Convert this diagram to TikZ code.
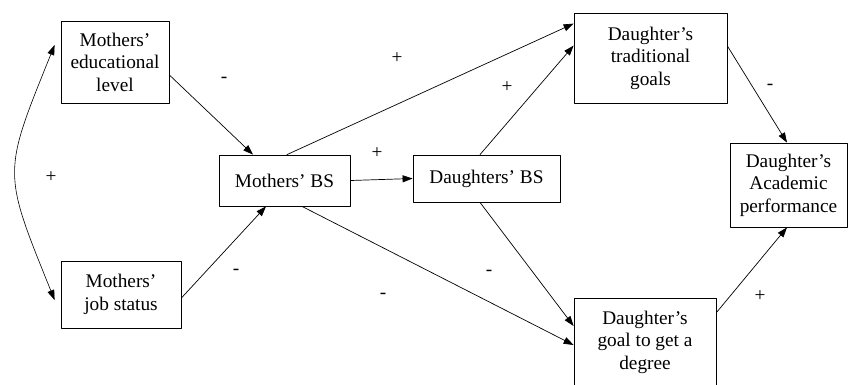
\documentclass[tikz,border=0pt]{standalone}
\usepackage{fontspec}
\setmainfont{Liberation Serif}
\usetikzlibrary{arrows.meta}
\tikzset{
  every picture/.style={line join=round, line cap=round, >={Triangle[length=10pt,width=7pt]}},
  box/.style={draw, line width=0.8pt, align=center, inner sep=0pt, font=\fontsize{19.3}{22.5}\selectfont},
  sign/.style={inner sep=0pt, font=\fontsize{19.3}{22.5}\selectfont},
  link/.style={->, line width=0.7pt},
}

\begin{document}
\begin{tikzpicture}[x=1pt,y=1pt]
\useasboundingbox (0,0) rectangle (848,-384);
\node[box,minimum width=108pt,minimum height=82pt](edu)at(115,-62){Mothers'\\educational\\level};
\node[box,minimum width=120pt,minimum height=67pt](job)at(121,-294.5){Mothers'\\job status};
\node[box,minimum width=131pt,minimum height=51pt](mbs)at(284.5,-180.5){Mothers' BS};
\node[box,minimum width=147pt,minimum height=47pt](dbs)at(486.5,-178.5){Daughters' BS};
\node[box,minimum width=153pt,minimum height=90pt](trad)at(650.5,-58){Daughter's\\traditional\\goals};
\node[box,minimum width=117pt,minimum height=84pt](acad)at(788.5,-185){Daughter's\\Academic\\performance};
\node[box,minimum width=142pt,minimum height=88pt](deg)at(645,-342){Daughter's\\goal to get a\\degree};
\draw[link]([yshift=-13pt]edu.east)--([xshift=-31.5pt]mbs.north);
\draw[link]([yshift=-3.5pt]job.east)--([xshift=-18.5pt]mbs.south);
\draw[link]([xshift=2.5pt]mbs.north)--([yshift=-11pt]trad.north west);
\draw[link](mbs.east)--(dbs.west);
\draw[link]([xshift=-6.5pt]dbs.north)--([yshift=-33pt]trad.north west);
\draw[link]([xshift=17.5pt]mbs.south)--([yshift=-3pt]deg.west);
\draw[link]([xshift=-6.5pt]dbs.south)--([yshift=16pt]deg.west);
\draw[link]([yshift=12pt]trad.east)--([xshift=-1.5pt]acad.north);
\draw[link]([yshift=-15pt]deg.north east)--([xshift=-1.5pt]acad.south);
\draw[<->,line width=0.6pt]([xshift=-6pt,yshift=17pt]edu.west)to[out=248,in=112,looseness=1.4]([xshift=-6pt,yshift=-5.5pt]job.west);
\node[sign](s1)at(224,-80){-};
\node[sign](s2)at(51,-177){+};
\node[sign](s3)at(236,-272){-};
\node[sign](s4)at(397,-58){+};
\node[sign](s5)at(507,-87){+};
\node[sign](s6)at(377,-153){+};
\node[sign](s7)at(489,-273){-};
\node[sign](s8)at(383,-296){-};
\node[sign](s9)at(770,-87){-};
\node[sign](s10)at(760,-296){+};
\end{tikzpicture}
\end{document}
